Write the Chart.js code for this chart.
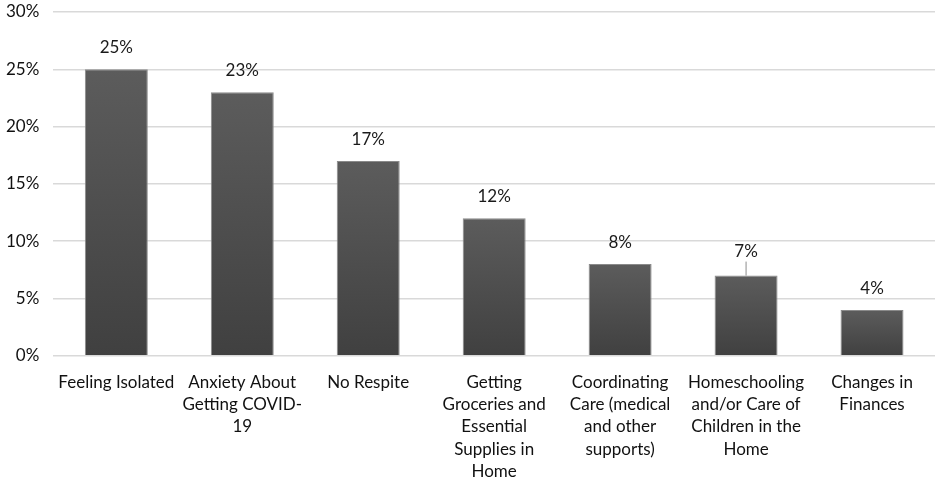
<!DOCTYPE html>
<html>
  <head>
    <meta charset="UTF-8">
    <title>Concerns</title>
    <script src="https://cdn.jsdelivr.net/npm/chart.js"></script>
    <style>
      html, body { margin: 0; padding: 0; background: #fff; }
      .chart-box { width: 941px; height: 482px; }
    </style>
  </head>
  <body>
    <div class="chart-box"><canvas id="concernChart"></canvas></div>

    <script>
      const categories = [
        ['Feeling Isolated'],
        ['Anxiety About', 'Getting COVID-', '19'],
        ['No Respite'],
        ['Getting', 'Groceries and', 'Essential', 'Supplies in', 'Home'],
        ['Coordinating', 'Care (medical', 'and other', 'supports)'],
        ['Homeschooling', 'and/or Care of', 'Children in the', 'Home'],
        ['Changes in', 'Finances']
      ];
      const percentages = [25, 23, 17, 12, 8, 7, 4];
      const yTicks = [0, 5, 10, 15, 20, 25, 30];
      // the 7% label sits a bit higher with a small leader line
      const leaderIndex = 5;

      // value labels above each bar
      const barLabels = {
        id: 'barLabels',
        afterDatasetsDraw(chart) {
          const ctx = chart.ctx;
          const meta = chart.getDatasetMeta(0);
          ctx.save();
          ctx.font = '17px Lato, "Open Sans", sans-serif';
          ctx.fillStyle = '#1a1a1a';
          ctx.textAlign = 'center';
          ctx.textBaseline = 'bottom';
          meta.data.forEach((bar, i) => {
            let gap = 13;
            if (i === leaderIndex) {
              gap = 16;
              ctx.strokeStyle = '#8c8c8c';
              ctx.lineWidth = 1;
              ctx.beginPath();
              ctx.moveTo(bar.x, bar.y);
              ctx.lineTo(bar.x, bar.y - gap + 2);
              ctx.stroke();
            }
            ctx.fillText(percentages[i] + '%', bar.x, bar.y - gap);
          });
          ctx.restore();
        }
      };

      // each bar fades from mid grey at the top to darker grey at the base
      function barFill(context) {
        const chart = context.chart;
        const y = chart.scales && chart.scales.y;
        if (!chart.chartArea || !y || context.dataIndex === undefined) return '#4f4f4f';
        const top = y.getPixelForValue(percentages[context.dataIndex]);
        const base = y.getPixelForValue(0);
        const g = chart.ctx.createLinearGradient(0, top, 0, base);
        g.addColorStop(0, '#5c5c5c');
        g.addColorStop(1, '#404040');
        return g;
      }

      const ctx = document.getElementById('concernChart').getContext('2d');
      new Chart(ctx, {
        type: 'bar',
        data: {
          labels: categories,
          datasets: [{
            data: percentages,
            backgroundColor: barFill,
            borderColor: '#8a8a8a',
            borderWidth: 1,
            barPercentage: 0.5,
            categoryPercentage: 1
          }]
        },
        options: {
          responsive: true,
          maintainAspectRatio: false,
          animation: false,
          layout: { padding: { top: 12, right: 6, left: -8, bottom: -16 } },
          plugins: {
            legend: { display: false },
            tooltip: { enabled: false }
          },
          scales: {
            y: {
              min: 0,
              max: 30,
              afterBuildTicks: axis => { axis.ticks = yTicks.map(v => ({ value: v })); },
              afterFit: axis => { axis.paddingTop = 0; axis.paddingBottom = 0; },
              border: { display: false },
              grid: { color: '#d9d9d9', lineWidth: 1.5, drawTicks: false },
              ticks: {
                padding: 14,
                color: '#111',
                font: { family: 'Lato, "Open Sans", sans-serif', size: 17 },
                callback: v => v + '%'
              }
            },
            x: {
              border: { display: false },
              grid: { display: false, drawTicks: false },
              ticks: {
                maxRotation: 0,
                autoSkip: false,
                padding: 15,
                color: '#111',
                font: { family: 'Lato, "Open Sans", sans-serif', size: 17, lineHeight: 1.32 }
              }
            }
          }
        },
        plugins: [barLabels]
      });
    </script>
  </body>
</html>
